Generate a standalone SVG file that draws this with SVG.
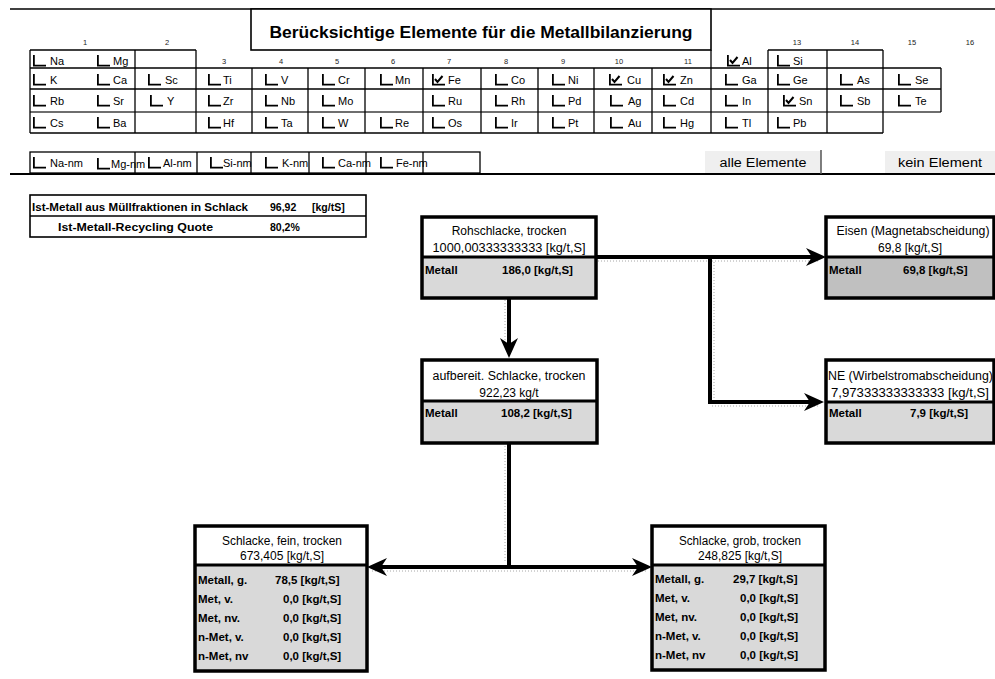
<svg xmlns="http://www.w3.org/2000/svg" xmlns:xlink="http://www.w3.org/1999/xlink" width="995" height="679" viewBox="0 0 995 679">
<style>
.t{font-family:"Liberation Sans",Arial,sans-serif;font-size:11px;fill:#000}
.gn{font-family:"Liberation Sans",Arial,sans-serif;font-size:7.5px;fill:#222;text-anchor:middle}
.ln{stroke:#000;stroke-width:1.3;fill:none}
.lg{stroke:#6e6e6e;stroke-width:2;fill:none}
.bt{font-family:"Liberation Sans",Arial,sans-serif;font-size:12px;fill:#000}
.bb{font-family:"Liberation Sans",Arial,sans-serif;font-size:11.5px;font-weight:bold;fill:#000}
.bs{font-family:"Liberation Sans",Arial,sans-serif;font-size:10.5px;font-weight:bold;fill:#000}
.mid{text-anchor:middle}
.frame{fill:none;stroke:#000;stroke-width:3.5}
.top{fill:#fff}
.gray{fill:#d9d9d9}
.dgray{fill:#c0c0c0}
.div{stroke:#000;stroke-width:3}
.con{fill:none;stroke:#000;stroke-width:4}
.sh{fill:none;stroke:#a8a8a8;stroke-width:1;stroke-dasharray:1 2}
</style>
<defs>
<g id="cb"><path d="M0.9,0 V10.6 H13" fill="none" stroke="#000" stroke-width="1.8"/></g>
<g id="cbc"><path d="M0.9,0 V10.6 H13" fill="none" stroke="#000" stroke-width="1.8"/><path d="M3,5 L5.5,8 L10.5,2" fill="none" stroke="#000" stroke-width="2"/></g>
<marker id="ah" markerUnits="userSpaceOnUse" markerWidth="20" markerHeight="20" viewBox="0 0 20 20" refX="10" refY="10" orient="auto"><path d="M0,1 L20,10 L0,19 L6,10 z" fill="#000"/></marker>
<clipPath id="clipF"><rect x="196" y="640" width="54" height="30"/></clipPath>
</defs>

<g id="header">
<line class="ln" x1="10" y1="9" x2="995" y2="9" stroke-width="1.6"/>
<rect x="251" y="9" width="460" height="41" fill="#fff" stroke="#000" stroke-width="1.6"/>
<text x="481" y="38" class="t mid" style="font-size:16px;font-weight:bold" textLength="423" lengthAdjust="spacingAndGlyphs">Berücksichtige Elemente für die Metallbilanzierung</text>
</g>

<g id="periodic-grid">
<line class="ln" x1="30" y1="50" x2="196" y2="50"/>
<line class="ln" x1="768" y1="50" x2="883" y2="50"/>
<line class="ln" x1="30" y1="68" x2="941" y2="68"/>
<line class="ln" x1="30" y1="89" x2="941" y2="89"/>
<line class="lg" x1="30" y1="112" x2="941" y2="112"/>
<line class="ln" x1="30" y1="133" x2="883" y2="133"/>
<line class="ln" x1="30" y1="50" x2="30" y2="133"/>
<line class="ln" x1="135" y1="50" x2="135" y2="133"/>
<line class="ln" x1="196" y1="50" x2="196" y2="133"/>
<line class="ln" x1="252" y1="68" x2="252" y2="133"/>
<line class="ln" x1="308" y1="68" x2="308" y2="133"/>
<line class="ln" x1="365" y1="68" x2="365" y2="133"/>
<line class="ln" x1="423" y1="68" x2="423" y2="133"/>
<line class="ln" x1="481" y1="68" x2="481" y2="133"/>
<line class="ln" x1="538" y1="68" x2="538" y2="133"/>
<line class="ln" x1="594" y1="68" x2="594" y2="133"/>
<line class="ln" x1="652" y1="68" x2="652" y2="133"/>
<line class="ln" x1="711" y1="50" x2="711" y2="133"/>
<line class="ln" x1="768" y1="50" x2="768" y2="133"/>
<line class="ln" x1="827" y1="50" x2="827" y2="133"/>
<line class="ln" x1="883" y1="50" x2="883" y2="133"/>
<line class="ln" x1="941" y1="68" x2="941" y2="112" stroke-width="2"/>
</g>

<g id="group-numbers">
<text class="gn" x="85" y="45">1</text>
<text class="gn" x="167" y="45">2</text>
<text class="gn" x="224" y="64">3</text>
<text class="gn" x="281" y="64">4</text>
<text class="gn" x="337" y="64">5</text>
<text class="gn" x="393" y="64">6</text>
<text class="gn" x="449" y="64">7</text>
<text class="gn" x="506" y="64">8</text>
<text class="gn" x="563" y="64">9</text>
<text class="gn" x="619" y="64">10</text>
<text class="gn" x="688" y="64">11</text>
<text class="gn" x="797" y="45">13</text>
<text class="gn" x="855" y="45">14</text>
<text class="gn" x="912" y="45">15</text>
<text class="gn" x="970" y="45">16</text>
</g>

<g id="elements">
<use href="#cb" x="33" y="55"/><text class="t" x="50" y="65">Na</text>
<use href="#cb" x="97" y="55"/><text class="t" x="113" y="65">Mg</text>
<use href="#cbc" x="727" y="55"/><text class="t" x="742" y="65">Al</text>
<use href="#cb" x="777" y="55"/><text class="t" x="793" y="65">Si</text>

<use href="#cb" x="33" y="74"/><text class="t" x="50" y="84">K</text>
<use href="#cb" x="97" y="74"/><text class="t" x="113" y="84">Ca</text>
<use href="#cb" x="148" y="74"/><text class="t" x="165" y="84">Sc</text>
<use href="#cb" x="208" y="74"/><text class="t" x="223" y="84">Ti</text>
<use href="#cb" x="265" y="74"/><text class="t" x="281" y="84">V</text>
<use href="#cb" x="322" y="74"/><text class="t" x="338" y="84">Cr</text>
<use href="#cb" x="380" y="74"/><text class="t" x="395" y="84">Mn</text>
<use href="#cbc" x="432" y="74"/><text class="t" x="448" y="84">Fe</text>
<use href="#cb" x="495" y="74"/><text class="t" x="511" y="84">Co</text>
<use href="#cb" x="552" y="74"/><text class="t" x="568" y="84">Ni</text>
<use href="#cbc" x="609" y="74"/><text class="t" x="627" y="84">Cu</text>
<use href="#cbc" x="663" y="74"/><text class="t" x="680" y="84">Zn</text>
<use href="#cb" x="725" y="74"/><text class="t" x="742" y="84">Ga</text>
<use href="#cb" x="777" y="74"/><text class="t" x="793" y="84">Ge</text>
<use href="#cb" x="840" y="74"/><text class="t" x="857" y="84">As</text>
<use href="#cb" x="898" y="74"/><text class="t" x="915" y="84">Se</text>

<use href="#cb" x="33" y="95"/><text class="t" x="50" y="105">Rb</text>
<use href="#cb" x="97" y="95"/><text class="t" x="113" y="105">Sr</text>
<use href="#cb" x="150" y="95"/><text class="t" x="167" y="105">Y</text>
<use href="#cb" x="208" y="95"/><text class="t" x="223" y="105">Zr</text>
<use href="#cb" x="265" y="95"/><text class="t" x="281" y="105">Nb</text>
<use href="#cb" x="322" y="95"/><text class="t" x="338" y="105">Mo</text>
<use href="#cb" x="432" y="95"/><text class="t" x="448" y="105">Ru</text>
<use href="#cb" x="495" y="95"/><text class="t" x="511" y="105">Rh</text>
<use href="#cb" x="552" y="95"/><text class="t" x="568" y="105">Pd</text>
<use href="#cb" x="610" y="95"/><text class="t" x="628" y="105">Ag</text>
<use href="#cb" x="663" y="95"/><text class="t" x="680" y="105">Cd</text>
<use href="#cb" x="725" y="95"/><text class="t" x="742" y="105">In</text>
<use href="#cbc" x="783" y="95"/><text class="t" x="799" y="105">Sn</text>
<use href="#cb" x="840" y="95"/><text class="t" x="857" y="105">Sb</text>
<use href="#cb" x="898" y="95"/><text class="t" x="915" y="105">Te</text>

<use href="#cb" x="33" y="117"/><text class="t" x="50" y="127">Cs</text>
<use href="#cb" x="97" y="117"/><text class="t" x="113" y="127">Ba</text>
<use href="#cb" x="208" y="117"/><text class="t" x="223" y="127">Hf</text>
<use href="#cb" x="265" y="117"/><text class="t" x="281" y="127">Ta</text>
<use href="#cb" x="322" y="117"/><text class="t" x="338" y="127">W</text>
<use href="#cb" x="380" y="117"/><text class="t" x="395" y="127">Re</text>
<use href="#cb" x="432" y="117"/><text class="t" x="448" y="127">Os</text>
<use href="#cb" x="495" y="117"/><text class="t" x="511" y="127">Ir</text>
<use href="#cb" x="552" y="117"/><text class="t" x="568" y="127">Pt</text>
<use href="#cb" x="610" y="117"/><text class="t" x="628" y="127">Au</text>
<use href="#cb" x="663" y="117"/><text class="t" x="680" y="127">Hg</text>
<use href="#cb" x="725" y="117"/><text class="t" x="742" y="127">Tl</text>
<use href="#cb" x="777" y="117"/><text class="t" x="793" y="127">Pb</text>
</g>

<g id="nonmetals">
<rect x="30" y="152" width="450" height="21" fill="none" stroke="#000" stroke-width="1.3"/>
<use href="#cb" x="33" y="157"/><text class="t" x="50" y="167">Na-nm</text>
<use href="#cb" x="97" y="158"/><text class="t" x="111" y="168">Mg-nm</text>
<use href="#cb" x="148" y="157"/><text class="t" x="163" y="167">Al-nm</text>
<use href="#cb" x="210" y="157"/><text class="t" x="223" y="167">Si-nm</text>
<use href="#cb" x="265" y="157"/><text class="t" x="282" y="167">K-nm</text>
<use href="#cb" x="322" y="157"/><text class="t" x="338" y="167">Ca-nm</text>
<use href="#cb" x="380" y="157"/><text class="t" x="396" y="167">Fe-nm</text>
<line class="ln" x1="135" y1="152" x2="135" y2="173"/>
<line class="ln" x1="197" y1="152" x2="197" y2="173"/>
<line class="ln" x1="251" y1="152" x2="251" y2="173"/>
<line class="ln" x1="309" y1="152" x2="309" y2="173"/>
<line class="ln" x1="366" y1="152" x2="366" y2="173"/>
<line class="ln" x1="423" y1="152" x2="423" y2="173"/>
<line x1="10" y1="174" x2="995" y2="174" stroke="#000" stroke-width="2"/>
</g>

<g id="buttons">
<rect x="705" y="151" width="116" height="22" fill="#efefef"/>
<line x1="821" y1="150" x2="821" y2="174" stroke="#555" stroke-width="1.5"/>
<text x="763" y="167" class="bt mid" textLength="87" lengthAdjust="spacingAndGlyphs">alle Elemente</text>
<rect x="885" y="151" width="110" height="22" fill="#efefef"/>
<text x="940" y="167" class="bt mid" textLength="84" lengthAdjust="spacingAndGlyphs">kein Element</text>
</g>

<g id="summary">
<rect x="30" y="195" width="336" height="42" fill="#fff" stroke="#000" stroke-width="1.6"/>
<line class="ln" x1="30" y1="216" x2="366" y2="216"/>
<text class="bs" x="32" y="211" textLength="216" lengthAdjust="spacingAndGlyphs">Ist-Metall aus Müllfraktionen in Schlack</text>
<text class="bs" x="270" y="211">96,92</text>
<text class="bs" x="312" y="211">[kg/tS]</text>
<text class="bs" x="58" y="231" textLength="155" lengthAdjust="spacingAndGlyphs">Ist-Metall-Recycling Quote</text>
<text class="bs" x="270" y="231">80,2%</text>
</g>

<g id="connectors">
<path class="sh" d="M598,261 H820 M714,262 V399 M712,406 H818 M505,300 V348 M505,446 V563 M372,571 H646"/>
<path class="con" d="M509,298 V348" marker-end="url(#ah)"/>
<path class="con" d="M596,257 H816" marker-end="url(#ah)"/>
<path class="con" d="M710,257 V402 H814" marker-end="url(#ah)"/>
<path class="con" d="M509,443 V567"/>
<path class="con" d="M511,567 H377" marker-end="url(#ah)"/>
<path class="con" d="M507,567 H642" marker-end="url(#ah)"/>
</g>

<g id="node-rohschlacke">
<rect class="top" x="422" y="217" width="174" height="40"/>
<rect class="gray" x="422" y="257" width="174" height="41"/>
<line class="div" x1="422" y1="257" x2="596" y2="257"/>
<rect class="frame" x="422" y="217" width="174" height="81"/>
<text class="bt mid" x="509" y="235">Rohschlacke, trocken</text>
<text class="bt mid" x="509" y="252" textLength="153" lengthAdjust="spacingAndGlyphs">1000,00333333333 [kg/t,S]</text>
<text class="bb" x="425" y="274">Metall</text>
<text class="bb" x="502" y="274">186,0 [kg/t,S]</text>
</g>

<g id="node-aufbereit">
<rect class="top" x="422" y="360" width="175" height="41"/>
<rect class="gray" x="422" y="401" width="175" height="42"/>
<line class="div" x1="422" y1="401" x2="597" y2="401"/>
<rect class="frame" x="422" y="360" width="175" height="83"/>
<text class="bt mid" x="509" y="380" textLength="153" lengthAdjust="spacingAndGlyphs">aufbereit. Schlacke, trocken</text>
<text class="bt mid" x="509" y="397">922,23 kg/t</text>
<text class="bb" x="425" y="417">Metall</text>
<text class="bb" x="501" y="417">108,2 [kg/t,S]</text>
</g>

<g id="node-eisen">
<rect class="top" x="826" y="217" width="168" height="40"/>
<rect class="dgray" x="826" y="257" width="168" height="41"/>
<line class="div" x1="826" y1="257" x2="994" y2="257"/>
<rect class="frame" x="826" y="217" width="168" height="81"/>
<text class="bt mid" x="913" y="235" textLength="153" lengthAdjust="spacingAndGlyphs">Eisen (Magnetabscheidung)</text>
<text class="bt mid" x="910" y="252">69,8 [kg/t,S]</text>
<text class="bb" x="829" y="274">Metall</text>
<text class="bb" x="903" y="274">69,8 [kg/t,S]</text>
</g>

<g id="node-ne">
<rect class="top" x="826" y="360" width="168" height="42"/>
<rect class="gray" x="826" y="402" width="168" height="41"/>
<line class="div" x1="826" y1="402" x2="994" y2="402"/>
<rect class="frame" x="826" y="360" width="168" height="83"/>
<text class="bt" x="828" y="380" textLength="165" lengthAdjust="spacingAndGlyphs">NE (Wirbelstromabscheidung)</text>
<text class="bt" x="831" y="397" textLength="158" lengthAdjust="spacingAndGlyphs">7,97333333333333 [kg/t,S]</text>
<text class="bb" x="829" y="417">Metall</text>
<text class="bb" x="910" y="417">7,9 [kg/t,S]</text>
</g>

<g id="node-fein">
<rect class="top" x="195" y="526" width="172" height="39"/>
<rect class="gray" x="195" y="565" width="172" height="106"/>
<line class="div" x1="195" y1="565" x2="367" y2="565"/>
<rect class="frame" x="195" y="526" width="172" height="145"/>
<text class="bt mid" x="282" y="545" textLength="120" lengthAdjust="spacingAndGlyphs">Schlacke, fein, trocken</text>
<text class="bt mid" x="282" y="560">673,405 [kg/t,S]</text>
<text class="bb" x="198" y="584">Metall, g.</text><text class="bb" x="275" y="584">78,5 [kg/t,S]</text>
<text class="bb" x="198" y="603">Met, v.</text><text class="bb" x="283" y="603">0,0 [kg/t,S]</text>
<text class="bb" x="198" y="622">Met, nv.</text><text class="bb" x="283" y="622">0,0 [kg/t,S]</text>
<text class="bb" x="198" y="641">n-Met, v.</text><text class="bb" x="283" y="641">0,0 [kg/t,S]</text>
<text class="bb" x="198" y="660" clip-path="url(#clipF)">n-Met, nv</text><text class="bb" x="283" y="660">0,0 [kg/t,S]</text>
</g>

<g id="node-grob">
<rect class="top" x="652" y="526" width="173" height="39"/>
<rect class="gray" x="652" y="565" width="173" height="105"/>
<line class="div" x1="652" y1="565" x2="825" y2="565"/>
<rect class="frame" x="652" y="526" width="173" height="144"/>
<text class="bt mid" x="740" y="545" textLength="122" lengthAdjust="spacingAndGlyphs">Schlacke, grob, trocken</text>
<text class="bt mid" x="740" y="560">248,825 [kg/t,S]</text>
<text class="bb" x="655" y="583">Metall, g.</text><text class="bb" x="733" y="583">29,7 [kg/t,S]</text>
<text class="bb" x="655" y="602">Met, v.</text><text class="bb" x="740" y="602">0,0 [kg/t,S]</text>
<text class="bb" x="655" y="621">Met, nv.</text><text class="bb" x="740" y="621">0,0 [kg/t,S]</text>
<text class="bb" x="655" y="640">n-Met, v.</text><text class="bb" x="740" y="640">0,0 [kg/t,S]</text>
<text class="bb" x="655" y="659">n-Met, nv</text><text class="bb" x="740" y="659">0,0 [kg/t,S]</text>
</g>
</svg>
